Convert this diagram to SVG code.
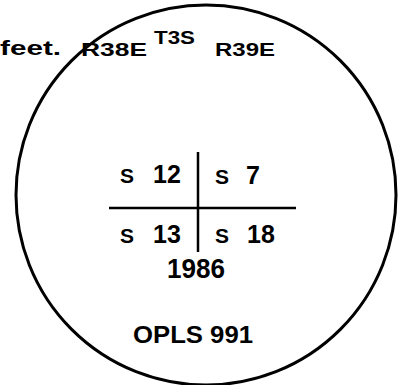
<svg xmlns="http://www.w3.org/2000/svg" width="408" height="385" viewBox="0 0 408 385">
<style>
.t{font-family:"Liberation Sans","DejaVu Sans",sans-serif;font-weight:bold;fill:#000}
.ln{stroke:#000;fill:none}
</style>
<rect width="408" height="385" fill="#fff"/>
<g id="boundary">
<circle class="ln" cx="206" cy="195" r="190" stroke-width="3"/>
</g>
<g id="connectors">
<line class="ln" x1="109" y1="208" x2="296" y2="208" stroke-width="2.5"/>
<line class="ln" x1="198" y1="152" x2="198" y2="252" stroke-width="2.5"/>
</g>
<g id="header">
<text class="t" x="0" y="55" font-size="20" textLength="61" lengthAdjust="spacingAndGlyphs">feet.</text>
<text class="t" x="81" y="56" font-size="19" textLength="66" lengthAdjust="spacingAndGlyphs">R38E</text>
<text class="t" x="154" y="44" font-size="19" textLength="41" lengthAdjust="spacingAndGlyphs">T3S</text>
<text class="t" x="215" y="56" font-size="19" textLength="60" lengthAdjust="spacingAndGlyphs">R39E</text>
</g>
<g id="s12"><text class="t" y="183"><tspan x="120" font-size="21">S </tspan><tspan x="153" font-size="25">12</tspan></text></g>
<g id="s7"><text class="t" y="184"><tspan x="215" font-size="21">S </tspan><tspan x="246" font-size="25">7</tspan></text></g>
<g id="s13"><text class="t" y="243"><tspan x="120" font-size="21">S </tspan><tspan x="153" font-size="25">13</tspan></text></g>
<g id="s18"><text class="t" y="243"><tspan x="215" font-size="21">S </tspan><tspan x="247" font-size="25">18</tspan></text></g>
<g id="year"><text class="t" x="167" y="278" font-size="27" textLength="58" lengthAdjust="spacingAndGlyphs">1986</text></g>
<g id="opls"><text class="t" x="133" y="343" font-size="24" textLength="120" lengthAdjust="spacingAndGlyphs">OPLS 991</text></g>
</svg>
